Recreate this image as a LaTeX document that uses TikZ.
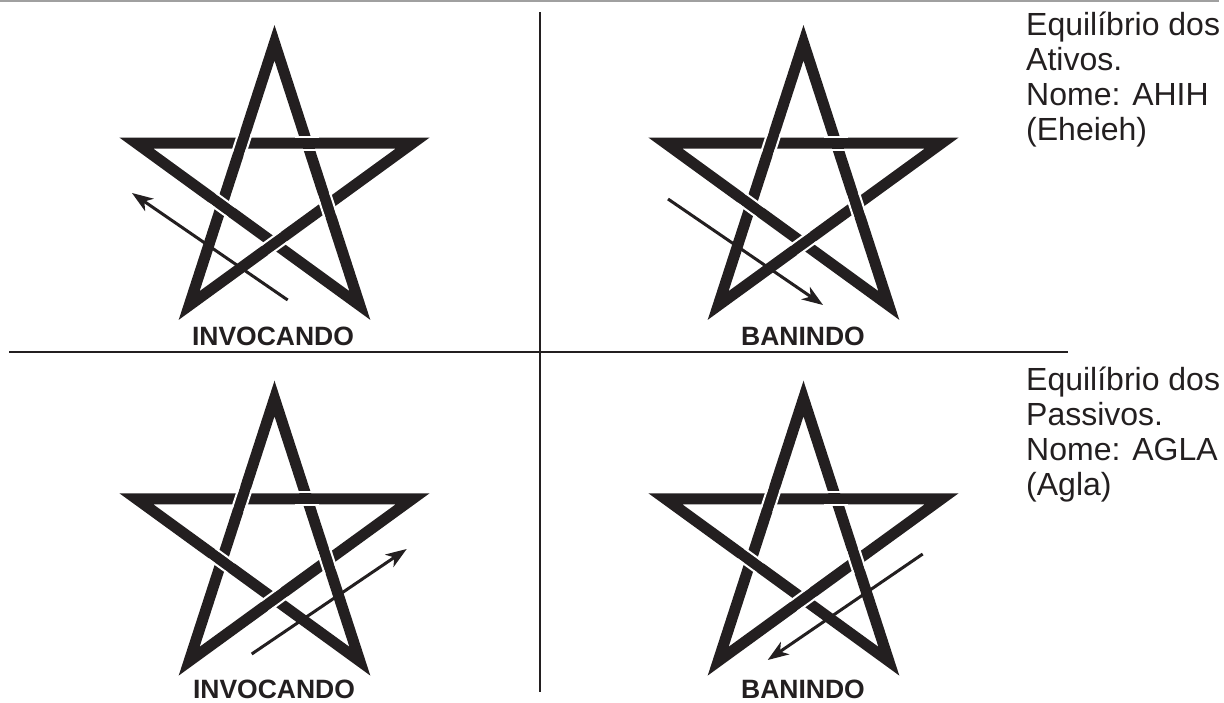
\documentclass[tikz,border=0pt]{standalone}
\usepackage{fontspec}
\setmainfont{Liberation Sans}
\usetikzlibrary{arrows.meta}
\definecolor{ink}{RGB}{35,31,32}
\definecolor{toprule}{RGB}{160,160,160}
\tikzset{
  starline/.style={draw=ink, line width=11pt, line join=miter, miter limit=10},
  gapline/.style={draw=white, line width=2pt, line cap=butt},
  motion/.style={draw=ink, line width=3pt, -{Stealth[length=21pt,width=15pt,inset=6pt]}},
  divider/.style={draw=ink, line width=2.8pt},
  starcaption/.style={font=\fontsize{26.5}{30}\selectfont\bfseries, text=ink, inner sep=0pt, anchor=base},
  note/.style={font=\fontsize{32}{35}\selectfont, text=ink, inner sep=0pt, anchor=base west},
}
\newcommand\pentagram[3]{%
  \begin{scope}[shift={(#1,#2)}]
    \coordinate (#3T) at (90:145.2pt);
    \coordinate (#3L) at (162:145.2pt);
    \coordinate (#3R) at (18:145.2pt);
    \coordinate (#3BL) at (234:145.2pt);
    \coordinate (#3BR) at (306:145.2pt);
    \draw[starline] (#3T) -- (#3BL) -- (#3R) -- (#3L) -- (#3BR) -- cycle;
    \foreach \ang/\dir in {126/252, 54/0, 198/324, 270/216, 342/288}{
      \begin{scope}[shift={(\ang:55.46pt)}, rotate=\dir]
        \draw[gapline] (-12pt,6.5pt) -- (12pt,6.5pt);
        \draw[gapline] (-12pt,-6.5pt) -- (12pt,-6.5pt);
      \end{scope}}
  \end{scope}}
\begin{document}
\begin{tikzpicture}[x=1pt, y=-1pt]
  \useasboundingbox (0,0) rectangle (1224,702);
  % frame lines
  \coordinate (ts) at (0,1);
  \coordinate (te) at (1219,1);
  \draw[draw=toprule, line width=2pt] (ts) -- (te);
  \coordinate (vt) at (540,12);
  \coordinate (vb) at (540,692);
  \coordinate (hl) at (9,352);
  \coordinate (hr) at (1068,352);
  \draw[divider] (vt) -- (vb);
  \draw[divider] (hl) -- (hr);
  % stars
  \pentagram{274.5}{188}{a}
  \pentagram{803.5}{188}{b}
  \pentagram{274.5}{543.7}{c}
  \pentagram{803.5}{543.7}{d}
  % arrows
  \coordinate (a1s) at (287.7,300);
  \coordinate (a1e) at (132,193);
  \coordinate (a2s) at (668,199);
  \coordinate (a2e) at (823,305);
  \coordinate (a3s) at (251.7,654);
  \coordinate (a3e) at (406.7,549);
  \coordinate (a4s) at (922.7,554);
  \coordinate (a4e) at (767.7,660);
  \draw[motion] (a1s) -- (a1e);
  \draw[motion] (a2s) -- (a2e);
  \draw[motion] (a3s) -- (a3e);
  \draw[motion] (a4s) -- (a4e);
  % captions
  \node[starcaption] (cap1) at (273,345) {INVOCANDO};
  \node[starcaption] (cap2) at (803,345) {BANINDO};
  \node[starcaption] (cap3) at (274,698) {INVOCANDO};
  \node[starcaption] (cap4) at (803,698) {BANINDO};
  % notes
  \node[note] (n1) at (1026,35) {Equilíbrio dos};
  \node[note] (n2) at (1026,70) {Ativos.};
  \node[note] (n3) at (1026,105) {Nome: AHIH};
  \node[note] (n4) at (1026,140) {(Eheieh)};
  \node[note] (m1) at (1026,390) {Equilíbrio dos};
  \node[note] (m2) at (1026,425) {Passivos.};
  \node[note] (m3) at (1026,460) {Nome: AGLA};
  \node[note] (m4) at (1026,495) {(Agla)};
\end{tikzpicture}
\end{document}
